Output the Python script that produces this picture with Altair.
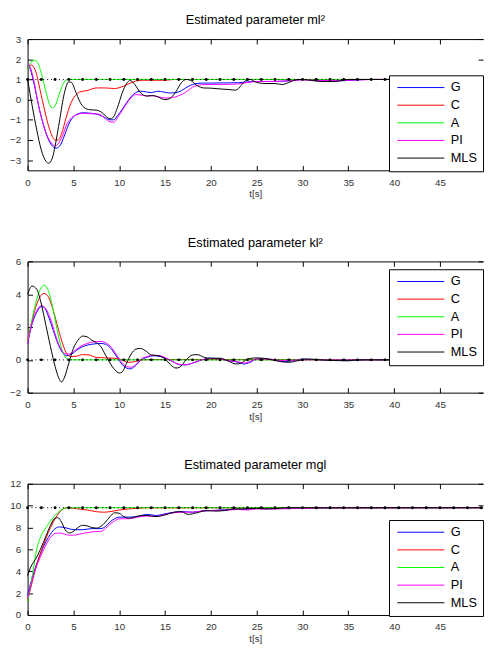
import altair as alt
import pandas as pd

SERIES = ["G", "C", "A", "PI", "MLS"]
COLORS = ["#0000ff", "#ff0000", "#00ff00", "#ff00ff", "#000000"]
X_TICKS = [0, 5, 10, 15, 20, 25, 30, 35, 40, 45]
X_MAX = 49.7  # the figure is cut just before t = 50

# reference markers (true parameter values)
REF_T = [0, 1.5, 3, 4.5, 6, 7.5, 9, 10.5, 12, 13.5, 15, 16.5, 18, 19.5, 21, 22.5,
         24, 25.5, 27, 28.5, 30, 31.5, 33, 34.5, 36, 37.5, 39, 40.5, 42, 43.5,
         45, 46.5, 48, 49.5]
REF_ML = 1.0
REF_KL = 0.0
REF_MGL = 9.81

# ---- panel 1: ml^2 ----
ML_G = [(0, 1.7), (0.3, 1.5), (0.7, 0.8), (1.2, -0.3), (1.7, -1.2), (2.2, -1.9), (2.7, -2.3),
        (3.1, -2.4), (3.5, -2.3), (4.0, -1.8), (4.5, -1.2), (5.0, -0.85), (5.5, -0.7), (6.0, -0.65),
        (7.0, -0.68), (7.8, -0.75), (8.5, -0.9), (9.0, -1.0), (9.4, -1.0), (9.8, -0.8), (10.3, -0.5),
        (10.8, -0.15), (11.3, 0.15), (11.8, 0.35), (12.3, 0.42), (13.0, 0.38), (13.5, 0.35),
        (14.2, 0.42), (14.8, 0.38), (15.5, 0.33), (16.2, 0.35), (16.8, 0.45), (17.5, 0.65),
        (18.0, 0.75), (19.0, 0.82), (20.0, 0.82), (21.0, 0.83), (22.0, 0.83), (23.0, 0.84),
        (24.0, 0.88), (25.0, 0.9), (26.0, 0.9), (27.0, 0.9), (28.0, 0.92), (29.0, 0.95),
        (30.0, 1.0), (31.0, 0.97), (33.0, 0.92), (35.0, 0.95), (37.0, 1.0), (49.7, 1.0)]
ML_C = [(0, 1.5), (0.4, 1.72), (0.8, 1.5), (1.5, 0.2), (2.0, -0.8), (2.5, -1.6), (3.0, -2.0),
        (3.3, -2.0), (3.7, -1.7), (4.2, -0.9), (4.7, -0.2), (5.2, 0.2), (5.7, 0.38), (6.5, 0.45),
        (7.5, 0.58), (8.5, 0.58), (9.5, 0.55), (10.2, 0.62), (11.0, 0.78), (11.8, 0.92),
        (12.5, 0.96), (14.0, 0.96), (15.0, 0.96), (16.0, 1.0), (49.7, 1.0)]
ML_A = [(0, 1.5), (0.3, 1.8), (0.7, 1.95), (1.0, 1.9), (1.5, 1.3), (2.0, 0.4), (2.4, -0.25),
        (2.7, -0.4), (3.0, -0.3), (3.4, 0.2), (3.8, 0.7), (4.2, 0.97), (4.5, 1.0), (49.7, 1.0)]
ML_PI = [(0, 1.8), (0.3, 1.6), (0.7, 0.9), (1.2, -0.3), (1.7, -1.2), (2.2, -1.85), (2.7, -2.2),
         (3.0, -2.3), (3.3, -2.2), (3.8, -1.8), (4.3, -1.2), (4.8, -0.9), (5.5, -0.72), (6.0, -0.68),
         (7.0, -0.7), (7.8, -0.72), (8.5, -0.95), (9.0, -1.1), (9.4, -1.12), (9.8, -0.9),
         (10.3, -0.55), (10.8, -0.2), (11.3, 0.1), (11.8, 0.25), (12.5, 0.22), (13.0, 0.18),
         (13.5, 0.2), (14.2, 0.15), (15.0, 0.08), (15.8, 0.1), (16.5, 0.2), (17.0, 0.3),
         (17.5, 0.45), (18.0, 0.62), (18.5, 0.7), (19.0, 0.74), (20.0, 0.75), (21.0, 0.75),
         (22.0, 0.76), (23.0, 0.78), (24.0, 0.85), (25.0, 0.9), (26.0, 0.9), (28.0, 0.92),
         (30.0, 0.98), (32.0, 0.95), (35.0, 0.96), (38.0, 1.0), (49.7, 1.0)]
ML_MLS = [(0, 1.0), (0.5, -0.3), (1.0, -1.5), (1.5, -2.5), (2.0, -3.05), (2.3, -3.15), (2.7, -2.9),
          (3.0, -2.3), (3.5, -1.0), (4.0, 0.3), (4.5, 0.88), (4.8, 0.85), (5.2, 0.45), (5.7, -0.1),
          (6.2, -0.4), (6.8, -0.5), (7.5, -0.52), (8.0, -0.6), (8.5, -0.8), (9.0, -0.95),
          (9.3, -0.9), (9.8, -0.4), (10.3, 0.3), (10.8, 0.8), (11.2, 0.95), (11.7, 0.75),
          (12.3, 0.35), (13.0, 0.18), (13.7, 0.2), (14.3, 0.12), (15.0, 0.0), (15.5, 0.05),
          (16.2, 0.4), (16.8, 0.85), (17.3, 1.0), (17.8, 0.95), (18.5, 0.7), (19.2, 0.58),
          (20.0, 0.57), (21.0, 0.53), (22.0, 0.5), (22.7, 0.47), (23.3, 0.7), (23.8, 0.95),
          (24.3, 1.0), (25.0, 0.85), (26.0, 0.8), (27.0, 0.8), (27.8, 0.75), (28.5, 0.85),
          (29.5, 1.0), (30.5, 0.98), (32.0, 0.9), (33.5, 0.9), (35.0, 1.0), (49.7, 1.0)]

# ---- panel 2: kl^2 ----
KL_G = [(0, 1.0), (0.5, 2.2), (1.0, 2.9), (1.5, 3.25), (1.8, 3.2), (2.3, 2.6), (2.8, 1.8),
        (3.3, 1.0), (3.8, 0.45), (4.3, 0.25), (4.8, 0.35), (5.5, 0.65), (6.2, 0.85), (7.0, 0.95),
        (8.0, 1.0), (8.5, 0.95), (9.0, 0.75), (9.6, 0.3), (10.2, -0.2), (10.8, -0.5), (11.2, -0.55),
        (11.7, -0.4), (12.3, -0.05), (13.0, 0.15), (13.8, 0.25), (14.5, 0.2), (15.3, 0.05),
        (16.0, -0.15), (16.6, -0.3), (17.2, -0.3), (18.0, -0.2), (19.0, 0.0), (20.0, 0.1),
        (21.0, 0.05), (22.0, -0.05), (23.0, -0.15), (23.6, -0.25), (24.3, -0.15), (25.0, 0.05),
        (26.0, 0.05), (27.0, 0.0), (28.0, -0.1), (29.0, -0.05), (30.0, 0.05), (32.0, 0.0),
        (35.0, -0.05), (37.0, 0.0), (49.7, 0.0)]
KL_C = [(0, 1.2), (0.5, 2.4), (1.0, 3.4), (1.5, 3.95), (1.8, 4.05), (2.2, 3.9), (2.7, 3.2),
        (3.2, 2.2), (3.7, 1.2), (4.2, 0.45), (4.7, 0.2), (5.3, 0.22), (6.0, 0.32), (6.7, 0.3),
        (7.5, 0.15), (8.5, 0.12), (9.5, 0.1), (10.3, 0.0), (11.0, -0.15), (11.8, -0.1),
        (12.5, 0.0), (13.5, 0.02), (49.7, 0.0)]
KL_A = [(0, 1.1), (0.5, 2.5), (1.0, 3.7), (1.5, 4.4), (1.8, 4.55), (2.2, 4.3), (2.7, 3.3),
        (3.2, 1.9), (3.7, 0.7), (4.2, 0.1), (4.6, 0.0), (49.7, 0.0)]
KL_PI = [(0, 1.0), (0.5, 2.3), (1.0, 3.0), (1.5, 3.3), (2.0, 3.1), (2.5, 2.5), (3.0, 1.6),
         (3.5, 0.8), (4.0, 0.4), (4.5, 0.35), (5.0, 0.5), (5.7, 0.8), (6.5, 1.0), (7.3, 1.1),
         (8.0, 1.12), (8.5, 1.05), (9.0, 0.85), (9.6, 0.4), (10.2, -0.1), (10.8, -0.4),
         (11.3, -0.45), (11.8, -0.3), (12.4, 0.05), (13.0, 0.2), (13.8, 0.28), (14.5, 0.25),
         (15.3, 0.05), (16.0, -0.15), (16.6, -0.28), (17.3, -0.3), (18.0, -0.2), (19.0, 0.0),
         (20.0, 0.08), (21.0, 0.05), (22.0, -0.05), (23.0, -0.12), (23.6, -0.2), (24.3, -0.1),
         (25.0, 0.05), (26.0, 0.05), (28.0, -0.05), (30.0, 0.0), (49.7, 0.0)]
KL_MLS = [(0, 4.0), (0.5, 4.5), (1.0, 4.3), (1.5, 3.4), (2.0, 2.1), (2.5, 0.8), (3.0, -0.4),
          (3.4, -1.1), (3.7, -1.35), (4.0, -1.1), (4.5, -0.2), (5.0, 0.7), (5.5, 1.2), (6.0, 1.45),
          (6.5, 1.4), (7.0, 1.2), (7.5, 1.05), (8.0, 0.8), (8.5, 0.3), (9.0, -0.2), (9.5, -0.6),
          (10.0, -0.8), (10.3, -0.75), (10.8, -0.2), (11.3, 0.35), (11.8, 0.65), (12.3, 0.7),
          (13.0, 0.5), (13.5, 0.3), (14.3, 0.25), (15.0, 0.05), (15.6, -0.3), (16.2, -0.5),
          (16.6, -0.45), (17.3, 0.0), (18.0, 0.3), (18.5, 0.32), (19.3, 0.15), (20.0, 0.1),
          (21.0, 0.1), (22.0, -0.1), (22.7, -0.25), (23.3, -0.2), (24.0, 0.05), (25.0, 0.12),
          (26.0, 0.08), (27.5, -0.1), (28.5, -0.15), (29.5, -0.05), (30.5, 0.05), (32.0, 0.0),
          (34.0, -0.05), (35.0, -0.05), (36.0, 0.0), (49.7, 0.0)]

# ---- panel 3: mgl ----
MGL_G = [(0, 1.8), (0.5, 3.4), (1.0, 4.7), (1.5, 5.8), (2.0, 6.7), (2.5, 7.4), (3.0, 7.9),
         (3.5, 8.05), (4.0, 8.0), (4.5, 7.9), (5.0, 7.8), (6.0, 7.8), (7.0, 7.9), (8.0, 7.9),
         (8.5, 8.1), (9.0, 8.5), (9.5, 8.8), (10.0, 8.95), (11.0, 8.95), (12.0, 9.0), (13.0, 9.2),
         (14.0, 9.1), (15.0, 9.25), (16.0, 9.4), (17.0, 9.45), (18.0, 9.4), (19.0, 9.5),
         (20.0, 9.55), (21.0, 9.6), (22.0, 9.65), (23.0, 9.65), (24.0, 9.7), (25.0, 9.75),
         (26.0, 9.72), (28.0, 9.75), (30.0, 9.8), (49.7, 9.81)]
MGL_C = [(0, 1.3), (0.5, 3.0), (1.0, 4.6), (1.5, 5.9), (2.0, 7.0), (2.5, 8.0), (3.0, 8.8),
         (3.5, 9.4), (4.0, 9.75), (4.5, 9.8), (5.5, 9.7), (6.5, 9.6), (7.5, 9.45), (8.3, 9.4),
         (9.0, 9.45), (10.0, 9.6), (11.0, 9.7), (12.0, 9.75), (13.0, 9.8), (49.7, 9.81)]
MGL_A = [(0, 1.2), (0.5, 3.5), (1.0, 6.0), (1.5, 7.3), (2.0, 8.0), (2.5, 8.6), (3.0, 9.1),
         (3.5, 9.5), (4.0, 9.75), (4.4, 9.81), (49.7, 9.81)]
MGL_PI = [(0, 1.5), (0.5, 3.2), (1.0, 4.5), (1.5, 5.5), (2.0, 6.4), (2.5, 7.1), (3.0, 7.45),
          (3.5, 7.5), (4.0, 7.4), (4.5, 7.3), (5.0, 7.3), (6.0, 7.45), (7.0, 7.6), (8.0, 7.65),
          (8.5, 7.9), (9.0, 8.3), (9.5, 8.6), (10.0, 8.8), (11.0, 8.8), (12.0, 8.95), (13.0, 9.05),
          (14.0, 9.0), (15.0, 9.2), (16.0, 9.35), (17.0, 9.4), (18.0, 9.4), (19.0, 9.5),
          (20.0, 9.55), (21.0, 9.55), (22.0, 9.6), (23.0, 9.65), (24.0, 9.6), (25.0, 9.7),
          (27.0, 9.7), (30.0, 9.75), (33.0, 9.8), (49.7, 9.81)]
MGL_MLS = [(0, 3.6), (0.3, 4.3), (0.7, 4.9), (1.0, 5.3), (1.5, 6.2), (2.0, 7.2), (2.5, 8.2),
           (3.0, 8.85), (3.3, 8.9), (3.7, 8.5), (4.1, 7.8), (4.6, 7.5), (5.0, 7.65), (5.5, 8.0),
           (6.0, 8.2), (6.5, 8.15), (7.0, 8.0), (7.5, 7.95), (8.0, 8.1), (8.5, 8.5), (9.0, 9.0),
           (9.5, 9.35), (10.0, 9.3), (10.5, 9.0), (11.0, 8.85), (11.5, 8.9), (12.0, 9.05),
           (13.0, 9.1), (14.0, 9.0), (15.0, 9.15), (16.0, 9.4), (16.8, 9.45), (17.5, 9.2),
           (18.5, 9.35), (19.5, 9.55), (20.5, 9.5), (21.5, 9.55), (22.5, 9.7), (23.5, 9.7),
           (25.0, 9.75), (26.0, 9.7), (27.0, 9.72), (28.0, 9.8), (49.7, 9.81)]

FONT = "Liberation Sans"
LABEL_COLOR = "#333333"


def series_frame(parts):
    rows = []
    for name, pts in zip(SERIES, parts):
        for t, v in pts:
            rows.append({"t": t, "v": v, "s": name})
    return pd.DataFrame(rows)


def panel(parts, ref_value, title, ydom, yticks, lx, ly):
    df = series_frame(parts)
    ref = pd.DataFrame({"t": REF_T, "v": [ref_value] * len(REF_T)})
    xs = alt.Scale(domain=[0, X_MAX], nice=False, zero=False)
    ys = alt.Scale(domain=ydom, nice=False, zero=False)

    lab_x = alt.Axis(orient="bottom", values=X_TICKS, tickSize=0, labelPadding=7,
                     domain=True, domainColor="black", grid=False, title="t[s]",
                     titlePadding=2, labelFlush=False, labelOverlap=False)
    lab_y = alt.Axis(orient="left", values=yticks, tickSize=0, labelPadding=7,
                     domain=True, domainColor="black", grid=False, title=None,
                     labelOverlap=False, minExtent=0)
    legend = alt.Legend(orient="none", legendX=lx, legendY=ly, title=None,
                        symbolType="stroke", symbolSize=2304, symbolStrokeWidth=1,
                        symbolOffset=2, labelOffset=6, labelFontSize=13, labelColor="black",
                        labelFont=FONT, padding=6, rowPadding=4, clipHeight=13,
                        strokeColor="black", fillColor="white", cornerRadius=0)

    lines = alt.Chart(df).mark_line(strokeWidth=1, interpolate="monotone").encode(
        x=alt.X("t:Q", scale=xs, axis=lab_x),
        y=alt.Y("v:Q", scale=ys, axis=lab_y),
        color=alt.Color("s:N", scale=alt.Scale(domain=SERIES, range=COLORS), legend=legend),
    )

    common = dict(labels=False, grid=False, title=None, minExtent=0, maxExtent=0,
                  labelPadding=0, titlePadding=0)
    tick_b = alt.Axis(orient="bottom", values=X_TICKS, tickSize=5, offset=-5,
                      domain=False, tickColor="black", **common)
    tick_l = alt.Axis(orient="left", values=yticks, tickSize=5, offset=-5,
                      domain=False, tickColor="black", **common)
    tick_t = alt.Axis(orient="top", values=X_TICKS, tickSize=5, offset=-5,
                      domain=False, tickColor="black", **common)
    tick_r = alt.Axis(orient="right", values=yticks, tickSize=5, offset=-5,
                      domain=False, tickColor="black", **common)
    box_t = alt.Axis(orient="top", values=X_TICKS, ticks=False, domain=True,
                     domainColor="black", **common)

    ref_line = alt.Chart(ref).mark_line(strokeWidth=1, color="black", strokeDash=[1, 3]).encode(
        x=alt.X("t:Q", scale=xs, axis=tick_t),
        y=alt.Y("v:Q", scale=ys, axis=tick_r),
    )
    ref_pts = alt.Chart(ref).mark_point(filled=True, size=9, color="black", opacity=1).encode(
        x=alt.X("t:Q", scale=xs, axis=tick_b),
        y=alt.Y("v:Q", scale=ys, axis=tick_l),
    )
    box = alt.Chart(ref).mark_line(strokeOpacity=0).encode(
        x=alt.X("t:Q", scale=xs, axis=box_t),
        y=alt.Y("v:Q", scale=ys, axis=None),
    )

    return alt.layer(lines, ref_line, ref_pts, box).resolve_axis(
        x="independent", y="independent"
    ).properties(
        width=465, height=134,
        title=alt.Title(title, fontSize=13, fontWeight="normal", font=FONT,
                        color="black", offset=7, anchor="middle"),
    )


p1 = panel([ML_G, ML_C, ML_A, ML_PI, ML_MLS], REF_ML, "Estimated parameter ml\u00b2",
           [-3.5, 3], [-3, -2, -1, 0, 1, 2, 3], 369, 37)
p2 = panel([KL_G, KL_C, KL_A, KL_PI, KL_MLS], REF_KL, "Estimated parameter kl\u00b2",
           [-2, 6], [-2, 0, 2, 4, 6], 369, 8)
p3 = panel([MGL_G, MGL_C, MGL_A, MGL_PI, MGL_MLS], REF_MGL, "Estimated parameter mgl",
           [0, 12], [0, 2, 4, 6, 8, 10, 12], 369, 37)

chart = alt.vconcat(p1, p2, p3, spacing=93, bounds="flush").resolve_legend(
    color="independent"
).properties(
    padding={"left": 1, "top": 0, "right": 0, "bottom": 0}
).configure(font=FONT).configure_view(stroke=None).configure_axis(
    labelFont=FONT, labelFontSize=10, labelColor=LABEL_COLOR,
    titleFont=FONT, titleFontSize=10, titleFontWeight="normal", titleColor=LABEL_COLOR,
)

chart.save("out.html", embed_options={"renderer": "svg", "actions": False})
